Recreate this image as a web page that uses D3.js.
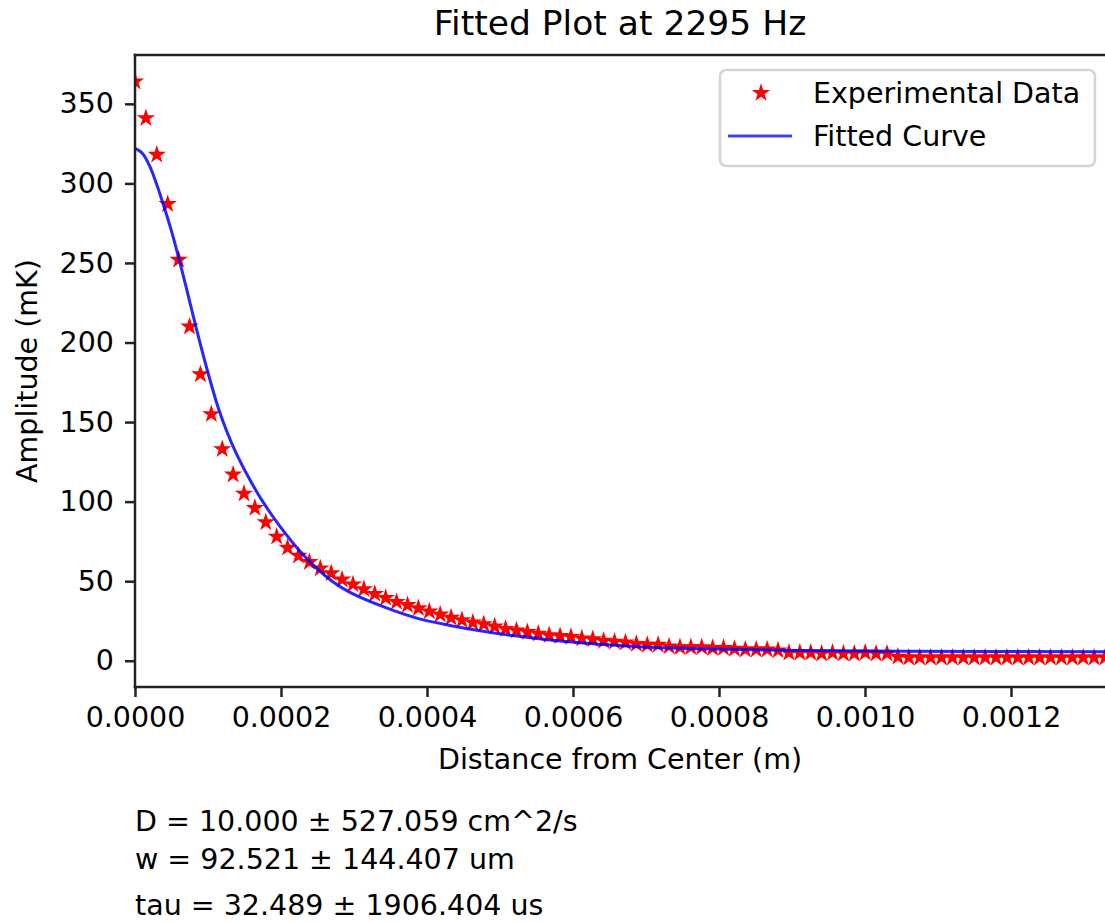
<!DOCTYPE html>
<html>
<head>
<meta charset="utf-8">
<script src="https://cdn.jsdelivr.net/npm/d3@7/dist/d3.min.js"></script>
<style>
  html, body { margin: 0; padding: 0; background: #fff; }
  svg text { font-family: "DejaVu Sans", sans-serif; fill: #000; }
</style>
</head>
<body>
<svg id="chart" width="1105" height="922"></svg>
<script>
// ---------- data ----------
const titleText = "Fitted Plot at 2295 Hz";
const xLabelText = "Distance from Center (m)";
const yLabelText = "Amplitude (mK)";
const legendLabels = ["Experimental Data", "Fitted Curve"];
const fitParams = [
  "D = 10.000 \u00b1 527.059 cm^2/s",
  "w = 92.521 \u00b1 144.407 um",
  "tau = 32.489 \u00b1 1906.404 us"
];
const xTicks = [0, 0.0002, 0.0004, 0.0006, 0.0008, 0.0010, 0.0012];
const yTicks = [0, 50, 100, 150, 200, 250, 300, 350];
const xDomain = [0, 0.00132877];
const yDomain = [-16.5, 380.7];

// experimental data: distance (micrometres) and amplitude (mK)
const expDistUm = [
  0, 14.93, 29.86, 44.79, 59.72, 74.65, 89.58, 104.51, 119.44, 134.37,
  149.3, 164.23, 179.16, 194.09, 209.02, 223.95, 238.88, 253.81, 268.74, 283.67,
  298.6, 313.53, 328.46, 343.39, 358.32, 373.25, 388.18, 403.11, 418.04, 432.97,
  447.9, 462.83, 477.76, 492.69, 507.62, 522.55, 537.48, 552.41, 567.34, 582.27,
  597.2, 612.13, 627.06, 641.99, 656.92, 671.85, 686.78, 701.71, 716.64, 731.57,
  746.5, 761.43, 776.36, 791.29, 806.22, 821.15, 836.08, 851.01, 865.94, 880.87,
  895.8, 910.73, 925.66, 940.59, 955.52, 970.45, 985.38, 1000.31, 1015.24, 1030.17,
  1045.1, 1060.03, 1074.96, 1089.89, 1104.82, 1119.75, 1134.68, 1149.61, 1164.54, 1179.47,
  1194.4, 1209.33, 1224.26, 1239.19, 1254.12, 1269.05, 1283.98, 1298.91, 1313.84, 1328.77
];
const expAmp = [
  364, 341, 318, 287, 252, 210, 180, 155, 133, 117,
  105, 96, 87, 78, 71, 66, 62, 58, 55, 51,
  48, 45, 42, 39.5, 37, 35, 33, 31, 29, 27,
  25.5, 24, 23, 21.5, 20, 19, 18, 17, 16, 15.5,
  15, 14, 13.5, 12.5, 12, 11.5, 10.5, 10, 10, 9,
  8.5, 8.5, 8.5, 8, 8, 7.5, 7, 7, 7, 6.5,
  5, 5, 5, 4.5, 5, 4.5, 4.5, 5, 4.5, 4.5,
  2.5, 2, 2, 2, 2, 2, 2, 2, 2, 2,
  2, 2, 2, 2, 2, 2, 2, 2, 2, 2
];

// fitted curve read at sampled distances (micrometres) and amplitude (mK)
const fitDistUm = [0, 10, 20, 30, 40, 50, 60, 70, 84.5, 100, 114, 125, 139, 160, 180, 198.6, 226, 249, 270, 294.5, 340, 386, 431.5, 477, 523, 568.5, 614, 660, 705.5, 774, 911, 1048, 1328.77];
const fitAmp    = [322, 319, 311, 299, 285, 270, 253, 235, 208, 181, 159, 145, 130, 111.5, 96.5, 84.5, 68.8, 58, 50, 43, 34, 26.8, 22.2, 18.5, 15.5, 13.1, 11.2, 9.7, 8.5, 7.5, 6.5, 6, 5.7];

// ---------- layout ----------
const svg = d3.select("#chart");
const M = { left: 135, right: 1105, top: 55, bottom: 687 };
const x = d3.scaleLinear().domain(xDomain).range([M.left, M.right]);
const y = d3.scaleLinear().domain(yDomain).range([M.bottom, M.top]);
const axisColor = "#222";
const tickFont = 28.5;

svg.append("defs").append("clipPath").attr("id", "plotClip")
  .append("rect").attr("x", M.left).attr("y", M.top)
  .attr("width", M.right - M.left).attr("height", M.bottom - M.top);

const plot = svg.append("g").attr("clip-path", "url(#plotClip)");

const expData = expDistUm.map((d, i) => ({ x: d * 1e-6, y: expAmp[i] }));
const fitData = fitDistUm.map((d, i) => ({ x: d * 1e-6, y: fitAmp[i] }));

const star = d3.symbol().type(d3.symbolStar).size(105);
plot.selectAll("path.star").data(expData).enter().append("path")
  .attr("class", "star")
  .attr("d", star)
  .attr("transform", d => `translate(${x(d.x)},${y(d.y)})`)
  .attr("fill", "#ff0000");

const line = d3.line().x(d => x(d.x)).y(d => y(d.y)).curve(d3.curveCatmullRom.alpha(0.5));
plot.append("path").datum(fitData)
  .attr("d", line)
  .attr("fill", "none")
  .attr("stroke", "#0000ff")
  .attr("stroke-opacity", 0.85)
  .attr("stroke-width", 3);

// axes
const xAxis = d3.axisBottom(x).tickValues(xTicks).tickFormat(d3.format(".4f"))
  .tickSize(10).tickPadding(10);
const yAxis = d3.axisLeft(y).tickValues(yTicks).tickFormat(d3.format("d"))
  .tickSize(10).tickPadding(11);

const gx = svg.append("g").attr("transform", `translate(0,${M.bottom})`).call(xAxis);
const gy = svg.append("g").attr("transform", `translate(${M.left},0)`).call(yAxis);
[gx, gy].forEach(g => {
  g.select(".domain").remove();
  g.selectAll(".tick line").attr("stroke", axisColor).attr("stroke-width", 2.5);
  g.selectAll(".tick text").attr("font-size", tickFont)
    .attr("font-family", "DejaVu Sans").attr("fill", "#222");
});

// spines: left, bottom, top (right edge falls off the canvas)
svg.append("line").attr("x1", M.left).attr("x2", M.left).attr("y1", M.top).attr("y2", M.bottom)
  .attr("stroke", axisColor).attr("stroke-width", 2.5).attr("stroke-linecap", "square");
svg.append("line").attr("x1", M.left).attr("x2", M.right + 2).attr("y1", M.bottom).attr("y2", M.bottom)
  .attr("stroke", axisColor).attr("stroke-width", 2.5).attr("stroke-linecap", "square");
svg.append("line").attr("x1", M.left).attr("x2", M.right + 2).attr("y1", M.top).attr("y2", M.top)
  .attr("stroke", axisColor).attr("stroke-width", 2.5).attr("stroke-linecap", "square");

// title and labels
svg.append("text").attr("x", (M.left + M.right) / 2).attr("y", 35)
  .attr("text-anchor", "middle").attr("font-size", 34.5).text(titleText);
svg.append("text").attr("x", (M.left + M.right) / 2).attr("y", 769)
  .attr("text-anchor", "middle").attr("font-size", tickFont).text(xLabelText);
svg.append("text").attr("transform", `translate(37,${(M.top + M.bottom) / 2}) rotate(-90)`)
  .attr("text-anchor", "middle").attr("font-size", tickFont).text(yLabelText);

// legend
const lg = svg.append("g");
lg.append("rect").attr("x", 720).attr("y", 70).attr("width", 375).attr("height", 96)
  .attr("rx", 6).attr("fill", "#fff").attr("fill-opacity", 0.8)
  .attr("stroke", "#d4d4d4").attr("stroke-width", 2.5);
lg.append("path").attr("d", star).attr("transform", "translate(761,93)").attr("fill", "#ff0000");
lg.append("line").attr("x1", 728).attr("x2", 792).attr("y1", 136).attr("y2", 136)
  .attr("stroke", "#0000ff").attr("stroke-opacity", 0.75).attr("stroke-width", 3);
lg.append("text").attr("x", 813).attr("y", 103).attr("font-size", tickFont).text(legendLabels[0]);
lg.append("text").attr("x", 813).attr("y", 146).attr("font-size", tickFont).text(legendLabels[1]);

// fit parameters text
const paramY = [831, 869, 915];
svg.selectAll("text.param").data(fitParams).enter().append("text")
  .attr("class", "param").attr("x", 135).attr("y", (d, i) => paramY[i])
  .attr("font-size", tickFont).text(d => d);
</script>
</body>
</html>
